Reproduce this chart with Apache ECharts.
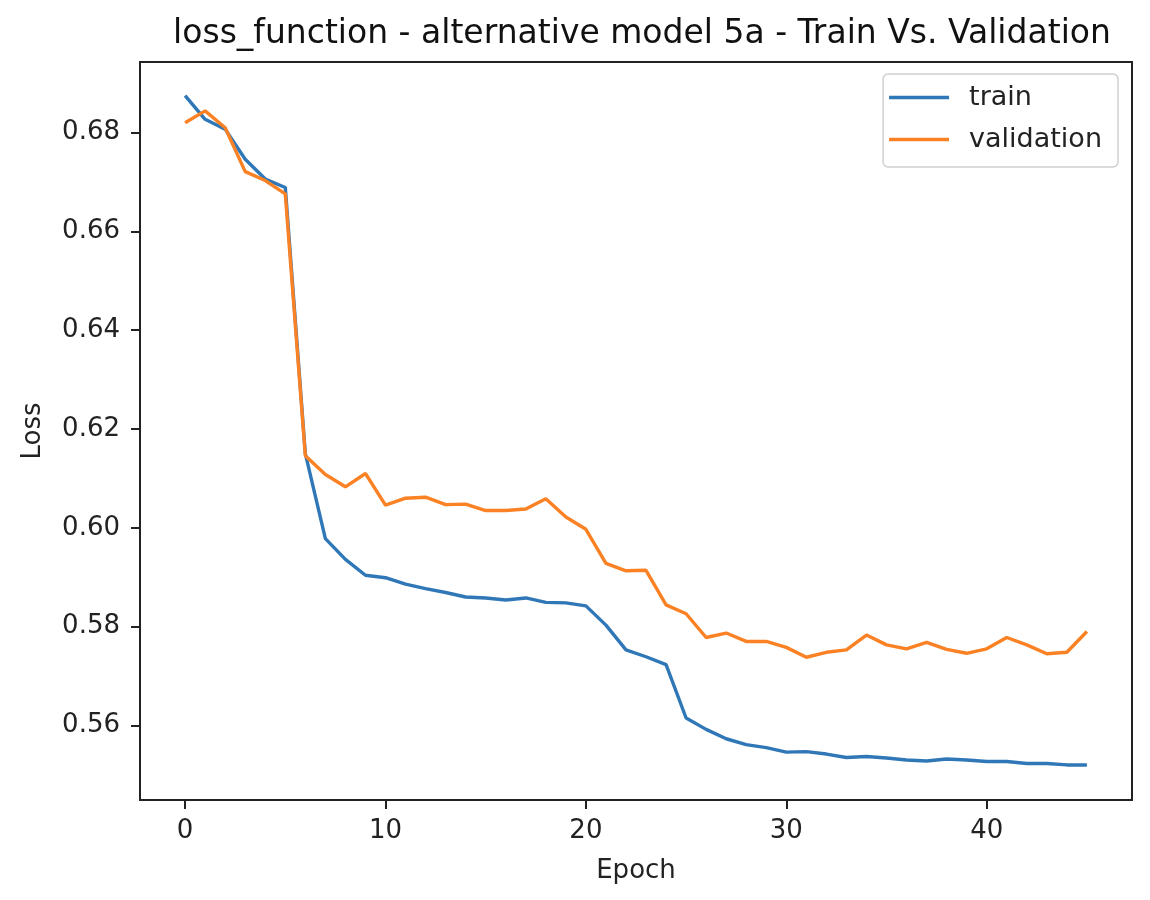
<!DOCTYPE html>
<html>
<head>
<meta charset="utf-8">
<script src="https://cdn.jsdelivr.net/npm/echarts@6/dist/echarts.min.js"></script>
<style>html,body{margin:0;padding:0;background:#fff}#c{width:1150px;height:900px}</style>
</head>
<body>
<div id="c"></div>
<script>
const epochs = Array.from({length: 46}, (_, i) => i);
const train = [0.6875,0.6827,0.6807,0.6746,0.6706,0.6689,0.6150,0.5978,0.5936,0.5904,
  0.5899,0.5886,0.5877,0.5869,0.5860,0.5858,0.5854,0.5858,0.5849,0.5848,
  0.5842,0.5803,0.5753,0.5739,0.5723,0.5615,0.5592,0.5573,0.5561,0.5555,
  0.5546,0.5547,0.5542,0.5535,0.5537,0.5534,0.5530,0.5528,0.5532,0.5530,
  0.5527,0.5527,0.5523,0.5523,0.5520,0.5520];
const validation = [0.6820,0.6844,0.6810,0.6721,0.6703,0.6676,0.6146,0.6108,0.6083,0.6110,
  0.6046,0.6060,0.6062,0.6047,0.6048,0.6035,0.6035,0.6038,0.6059,0.6022,
  0.5997,0.5928,0.5913,0.5914,0.5844,0.5826,0.5778,0.5787,0.5770,0.5770,
  0.5758,0.5738,0.5748,0.5753,0.5783,0.5763,0.5755,0.5768,0.5754,0.5746,
  0.5755,0.5778,0.5763,0.5745,0.5748,0.5790];
const xTicks = [0, 10, 20, 30, 40];
const yTicks = [0.56, 0.58, 0.60, 0.62, 0.64, 0.66, 0.68];

const font = 'DejaVu Sans';
const axisColor = '#222';
const chart = echarts.init(document.getElementById('c'));
chart.setOption({
  animation: false,
  backgroundColor: '#fff',
  title: {
    text: 'loss_function - alternative model 5a - Train Vs. Validation',
    left: 637, top: 13, textAlign: 'center',
    textStyle: {fontFamily: font, fontSize: 33, fontWeight: 'normal', color: '#111'}
  },
  legend: {
    orient: 'vertical', right: 32, top: 74,
    data: ['train', 'validation'],
    icon: 'rect',
    itemWidth: 60, itemHeight: 3.5, itemGap: 15,
    padding: [10, 16, 14, 6],
    borderColor: '#d0d0d0', borderWidth: 1.5, borderRadius: 5,
    backgroundColor: 'rgba(255,255,255,0.8)',
    textStyle: {fontFamily: font, fontSize: 27, color: '#222', padding: [0, 0, 0, 15]}
  },
  grid: {left: 140, right: 18, top: 62, bottom: 100, show: true, borderColor: axisColor, borderWidth: 2, backgroundColor: 'transparent'},
  xAxis: {
    type: 'value', min: -2.25, max: 47.25,
    name: 'Epoch', nameLocation: 'middle', nameGap: 58,
    nameTextStyle: {fontFamily: font, fontSize: 26, color: '#222'},
    axisLine: {show: true, onZero: false, lineStyle: {color: axisColor, width: 2}},
    axisTick: {show: true, length: 9, inside: false, lineStyle: {color: axisColor, width: 2}, customValues: xTicks},
    axisLabel: {fontFamily: font, fontSize: 26, color: '#222', margin: 18, customValues: xTicks},
    splitLine: {show: false}
  },
  yAxis: {
    type: 'value', min: 0.5449, max: 0.6943,
    name: 'Loss', nameLocation: 'middle', nameGap: 94,
    nameTextStyle: {fontFamily: font, fontSize: 26, color: '#222'},
    axisLine: {show: true, onZero: false, lineStyle: {color: axisColor, width: 2}},
    axisTick: {show: true, length: 9, inside: false, lineStyle: {color: axisColor, width: 2}, customValues: yTicks},
    axisLabel: {fontFamily: font, fontSize: 26, color: '#222', margin: 20, customValues: yTicks,
      formatter: v => v.toFixed(2)},
    splitLine: {show: false}
  },
  series: [
    {name: 'train', type: 'line', data: epochs.map((e, i) => [e, train[i]]), symbol: 'none',
      lineStyle: {color: '#2f77b7', width: 3.4}, itemStyle: {color: '#2f77b7'}},
    {name: 'validation', type: 'line', data: epochs.map((e, i) => [e, validation[i]]), symbol: 'none',
      lineStyle: {color: '#fb8125', width: 3.4}, itemStyle: {color: '#fb8125'}}
  ]
});
</script>
</body>
</html>
